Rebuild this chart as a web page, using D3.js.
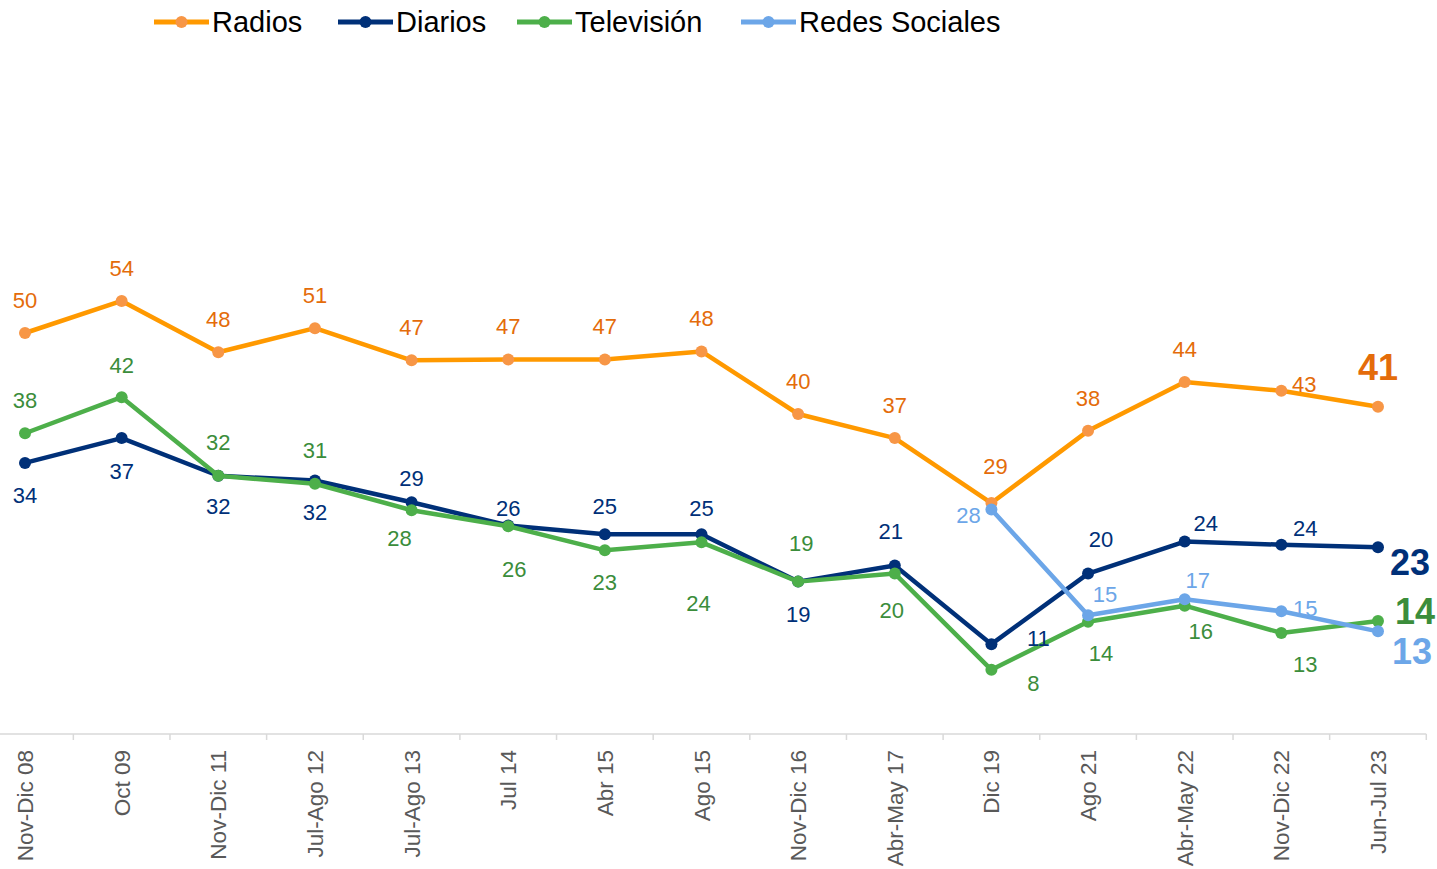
<!DOCTYPE html>
<html>
<head>
<meta charset="utf-8">
<script src="https://cdn.jsdelivr.net/npm/d3@7"></script>
<style>
  body { margin: 0; background: #fff; }
  text { font-family: Arial, "Liberation Sans", sans-serif; }
</style>
</head>
<body>
<svg id="chart" width="1437" height="869"></svg>
<script>
const periods = ['Nov-Dic 08', 'Oct 09', 'Nov-Dic 11', 'Jul-Ago 12', 'Jul-Ago 13', 'Jul 14', 'Abr 15', 'Ago 15',
  'Nov-Dic 16', 'Abr-May 17', 'Dic 19', 'Ago 21', 'Abr-May 22', 'Nov-Dic 22', 'Jun-Jul 23'];
const radios = [50, 54, 47.6, 50.6, 46.6, 46.7, 46.7, 47.7, 39.9, 36.9, 28.8, 37.8, 43.9, 42.8, 40.8];
const diarios = [33.8, 36.9, 32.2, 31.6, 28.9, 26, 24.9, 24.9, 19, 21, 11.2, 20, 24, 23.6, 23.3];
const television = [37.5, 42, 32.2, 31.2, 27.9, 25.9, 22.9, 23.9, 19, 20, 8, 14, 16, 12.6, 14.1];
const redes = [null, null, null, null, null, null, null, null, null, null, 28, 14.8, 16.8, 15.3, 12.8];

// label offsets [dx, dy] from each point (text centre)
const radiosOff = periods.map(() => [0, -33]);
radiosOff[10] = [4, -37];
radiosOff[13] = [23, -6];
radiosOff[14] = [0, -39];
const diariosOff = [[0, 32], [0, 33], [0, 31], [0, 32], [0, -24], [0, -17], [0, -28], [0, -26],
  [0, 33], [-4, -34], [47, -6], [13, -34], [21, -18], [24, -16], [32, 15]];
const tvOff = [[0, -33], [0, -32], [0, -33], [0, -33], [-12, 28], [6, 43], [0, 32], [-3, 61],
  [3, -38], [-3, 37], [42, 13], [13, 32], [16, 26], [24, 31], [37, -10]];
const redesOff = periods.map(() => [0, 0]);
redesOff[10] = [-23, 6];
redesOff[11] = [17, -21];
redesOff[12] = [13, -19];
redesOff[13] = [24, -3];
redesOff[14] = [34, 20];

const series = [
  { name: 'Radios', values: radios, off: radiosOff, line: '#ff9900', dot: '#f79646', label: '#e46c0a' },
  { name: 'Diarios', values: diarios, off: diariosOff, line: '#003078', dot: '#003078', label: '#003078' },
  { name: 'Televisión', values: television, off: tvOff, line: '#4daf4a', dot: '#4daf4a', label: '#3b8d3b' },
  { name: 'Redes Sociales', values: redes, off: redesOff, line: '#6ca6e8', dot: '#6ca6e8', label: '#6ca6e8' },
];

const svg = d3.select('#chart');

const x = d3.scaleBand()
  .domain(periods)
  .range([-23.3, 1426.3]);
const cx = (d) => x(d) + x.bandwidth() / 2;

const y = d3.scaleLinear()
  .domain([0, 80])
  .range([734, 92.4]);

const fmt = (v) => Math.round(v);

// axis line and ticks at category boundaries
const axis = svg.append('g');
axis.append('line')
  .attr('x1', 0).attr('x2', 1426.3)
  .attr('y1', y(0)).attr('y2', y(0))
  .attr('stroke', '#d9d9d9').attr('stroke-width', 1.5);
axis.selectAll('.tick')
  .data(periods)
  .enter()
  .append('line')
  .attr('x1', (d) => x(d) + x.bandwidth()).attr('x2', (d) => x(d) + x.bandwidth())
  .attr('y1', y(0)).attr('y2', y(0) + 6)
  .attr('stroke', '#d9d9d9').attr('stroke-width', 1.5);
axis.selectAll('text')
  .data(periods)
  .enter()
  .append('text')
  .text((d) => d)
  .attr('transform', (d) => `translate(${cx(d) + 8}, ${y(0) + 16}) rotate(-90)`)
  .attr('text-anchor', 'end')
  .attr('font-size', 22.5)
  .attr('fill', '#595959');

const line = d3.line()
  .defined((d) => d != null)
  .x((d, i) => cx(periods[i]))
  .y((d) => y(d));

series.forEach((s) => {
  const g = svg.append('g');
  g.append('path')
    .datum(s.values)
    .attr('d', line)
    .attr('fill', 'none')
    .attr('stroke', s.line)
    .attr('stroke-width', 4.5)
    .attr('stroke-linejoin', 'round');
  g.selectAll('circle')
    .data(s.values.map((v, i) => ({ v, i })).filter((d) => d.v != null))
    .enter()
    .append('circle')
    .attr('cx', (d) => cx(periods[d.i]))
    .attr('cy', (d) => y(d.v))
    .attr('r', 6)
    .attr('fill', s.dot);
});

series.forEach((s) => {
  const last = s.values.length - 1;
  svg.append('g')
    .selectAll('text')
    .data(s.values.map((v, i) => ({ v, i })).filter((d) => d.v != null))
    .enter()
    .append('text')
    .text((d) => fmt(d.v))
    .attr('x', (d) => cx(periods[d.i]) + s.off[d.i][0])
    .attr('y', (d) => y(d.v) + s.off[d.i][1])
    .attr('dy', '0.35em')
    .attr('text-anchor', 'middle')
    .attr('font-size', (d) => (d.i === last ? 36 : 22))
    .attr('font-weight', (d) => (d.i === last ? 'bold' : 'normal'))
    .attr('fill', s.label);
});

// legend
const legendX = [154, 338, 517, 741];
const legend = svg.append('g');
series.forEach((s, i) => {
  const lx = legendX[i];
  legend.append('line')
    .attr('x1', lx).attr('x2', lx + 55)
    .attr('y1', 22).attr('y2', 22)
    .attr('stroke', s.line).attr('stroke-width', 5);
  legend.append('circle')
    .attr('cx', lx + 27.5).attr('cy', 22).attr('r', 6)
    .attr('fill', s.dot);
  legend.append('text')
    .text(s.name)
    .attr('x', lx + 58)
    .attr('y', 22)
    .attr('dy', '0.35em')
    .attr('font-size', 29)
    .attr('fill', '#000');
});
</script>
</body>
</html>
